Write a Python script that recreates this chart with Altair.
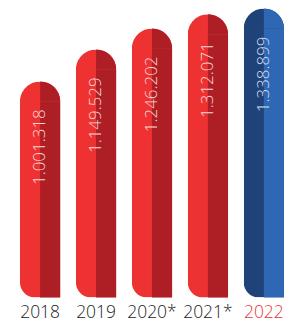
import altair as alt
import pandas as pd
import math

years = ["2018", "2019", "2020*", "2021*", "2022"]
values = [1001318, 1149529, 1246202, 1312071, 1338899]
value_labels = ["1.001.318", "1.149.529", "1.246.202", "1.312.071", "1.338.899"]
highlight = "2022"

RED_L, RED_R = "#ee3232", "#ae1f25"
BLUE_L, BLUE_R = "#1f4379", "#2e68b4"

df = pd.DataFrame({"year": years, "value": values, "label": value_labels})
df["lcol"] = [BLUE_L if y == highlight else RED_L for y in years]
df["rcol"] = [BLUE_R if y == highlight else RED_R for y in years]
df["tcol"] = ["#d3def0" if y == highlight else "#f9d6d6" for y in years]
df["half"] = "R"

FONT = "Open Sans"
W = 265
PAD_INNER = 0.28
BAR_W = W / (5 - PAD_INNER) * (1 - PAD_INNER)
R = BAR_W / 2

x = alt.X("year:N", sort=years, title=None,
          scale=alt.Scale(paddingInner=PAD_INNER, paddingOuter=0),
          axis=alt.Axis(domain=False, ticks=False, labelAngle=0, labelPadding=6,
                        labelFontSize=17.5, labelFont=FONT, labelFontWeight=300,
                        labelColor=alt.expr(f"datum.value == '{highlight}' ? '#e8343a' : '#222222'")))
xo = alt.XOffset("half:N", scale=alt.Scale(domain=["L", "R"], paddingInner=0, paddingOuter=0))
y = alt.Y("value:Q", scale=alt.Scale(domain=[0, max(values)], nice=False, zero=True), axis=None)

base = alt.Chart(df)

full = base.mark_bar(
    cornerRadiusTopLeft=R, cornerRadiusTopRight=R, cornerRadiusBottomLeft=15
).encode(x=x, y=y, color=alt.Color("lcol:N", scale=None))

right = base.mark_bar(yOffset=R).encode(
    x=x, xOffset=xo, y=y, y2=alt.datum(0), color=alt.Color("rcol:N", scale=None))

arc = base.mark_arc(radius=R, theta=0, theta2=math.pi / 2, yOffset=R).encode(
    x=alt.X("year:N", sort=years, bandPosition=0.5), y=y,
    color=alt.Color("rcol:N", scale=None))

text = base.mark_text(
    angle=270, align="right", baseline="middle", dx=-28,
    fontSize=17, font=FONT, fontWeight=300
).encode(x=x, y=y, text="label:N", color=alt.Color("tcol:N", scale=None))

chart = alt.layer(full, right, arc, text).properties(
    width=W, height=290,
    padding={"left": 11, "top": 0, "right": 0, "bottom": 0}
).configure_view(stroke=None)

chart.save("out.html", embed_options={"renderer": "svg", "actions": False})
